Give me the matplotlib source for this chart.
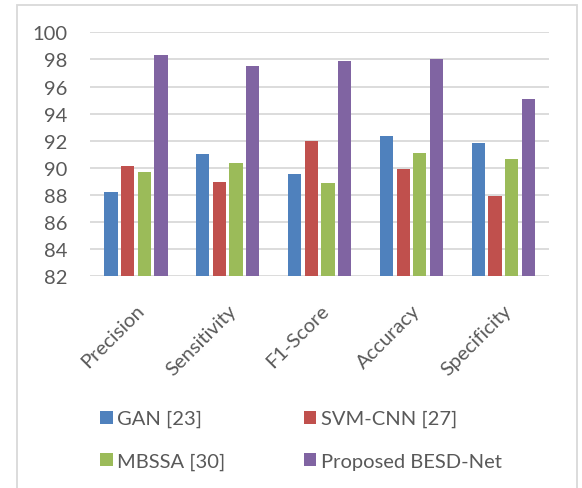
import matplotlib
matplotlib.use("Agg")
import matplotlib.pyplot as plt
from matplotlib.patches import Rectangle, Patch
import matplotlib.transforms as mtransforms
import numpy as np

categories = ["Precision", "Sensitivity", "F1-Score", "Accuracy", "Specificity"]
series_names = ["GAN [23]", "SVM-CNN [27]", "MBSSA [30]", "Proposed BESD-Net"]
gan = [88.24, 91.02, 89.54, 92.35, 91.83]
svm_cnn = [90.11, 88.95, 92.00, 89.89, 87.92]
mbssa = [89.72, 90.33, 88.86, 91.09, 90.63]
besd_net = [98.34, 97.53, 97.90, 98.02, 95.07]
y_ticks = [82, 84, 86, 88, 90, 92, 94, 96, 98, 100]

colors = ["#4F81BD", "#C0504D", "#9BBB59", "#8064A2"]
text_color = "#595959"
grid_color = "#D9D9D9"

plt.rcParams["font.family"] = ["Lato", "DejaVu Sans"]
fs = 14.5

fig = plt.figure(figsize=(5.82, 4.89), dpi=100)
ax = fig.add_axes([0.1546, 0.4329, 0.7892, 0.4990])

# outer chart-area frame (open at the bottom)
fig.patches.append(Rectangle((16.5 / 582, -0.1), (577 - 16.5) / 582, 1.1 - 6 / 489,
                             transform=fig.transFigure, fill=False,
                             edgecolor=grid_color, linewidth=1.3, zorder=0))

x = np.arange(len(categories))
pitch = 0.181
width = 0.145
all_series = [gan, svm_cnn, mbssa, besd_net]
for i, (vals, name, c) in enumerate(zip(all_series, series_names, colors)):
    offs = (i - 1.5) * pitch
    ax.bar(x + offs, np.array(vals) - 82, width=width, bottom=82, color=c,
           label=name, zorder=3)

ax.set_xlim(-0.5, len(categories) - 0.5)
ax.set_ylim(82, 100)
ax.set_yticks(y_ticks)
ax.set_yticklabels([str(t) for t in y_ticks], fontsize=fs, color=text_color)
ax.set_xticks(x)
ax.set_xticklabels(categories, rotation=45, ha="right", va="top",
                   rotation_mode="anchor", fontsize=fs, color=text_color)
shift = mtransforms.ScaledTranslation(1.5 / 72, 0, fig.dpi_scale_trans)
for lbl in ax.get_xticklabels():
    lbl.set_transform(lbl.get_transform() + shift)
ax.tick_params(axis="both", length=0)
ax.tick_params(axis="y", pad=16)
ax.tick_params(axis="x", pad=18)
for s in ax.spines.values():
    s.set_visible(False)
ax.yaxis.grid(True, color=grid_color, linewidth=1.3, zorder=0)
ax.set_axisbelow(True)

# legend laid out row by row: GAN, SVM-CNN / MBSSA, BESD-Net
order = [0, 2, 1, 3]
handles = [Patch(facecolor=colors[k], edgecolor="none") for k in order]
labels = [series_names[k] for k in order]
fig.legend(handles, labels, loc="upper left",
           bbox_to_anchor=(82 / 582, 1 - 393 / 489), ncol=2,
           frameon=False, fontsize=fs, handlelength=0.62,
           handleheight=0.62, handletextpad=0.22, columnspacing=3.9,
           labelspacing=1.25, labelcolor=text_color)

fig.savefig("out.png", dpi=100, facecolor="white")
